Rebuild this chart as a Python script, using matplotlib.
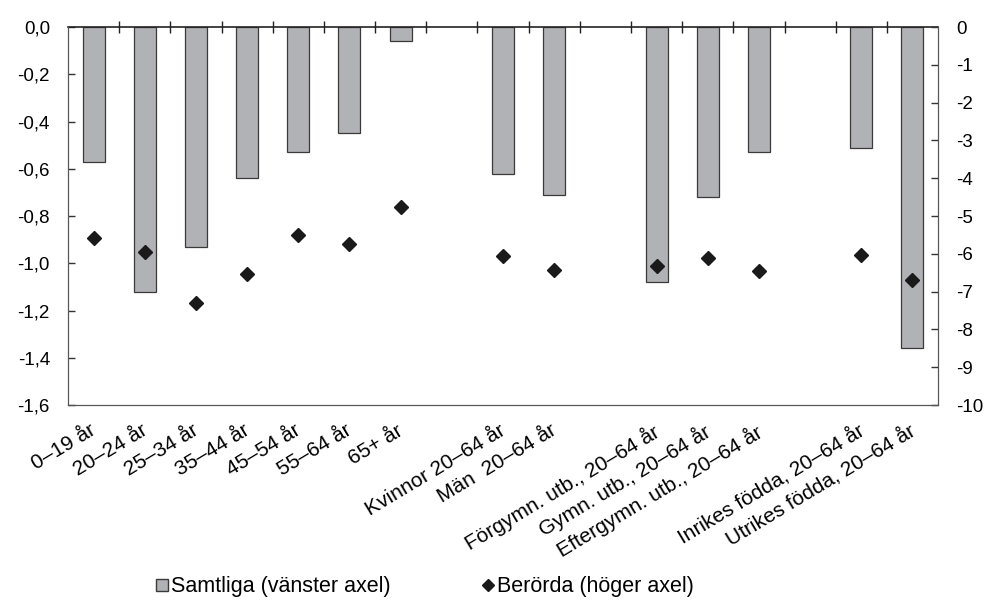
import numpy as np
import matplotlib
matplotlib.use("Agg")
import matplotlib.pyplot as plt
from matplotlib.lines import Line2D
from matplotlib.ticker import FuncFormatter, MultipleLocator
import matplotlib.transforms as mtransforms

plt.rcParams["font.family"] = ["Liberation Sans", "DejaVu Sans"]

# Kategorier (None = tom plats mellan grupperna)
kategorier = ["0–19 år", "20–24 år", "25–34 år", "35–44 år", "45–54 år", "55–64 år", "65+ år",
              None,
              "Kvinnor 20–64 år", "Män  20–64 år",
              None,
              "Förgymn. utb., 20–64 år", "Gymn. utb., 20–64 år", "Eftergymn. utb., 20–64 år",
              None,
              "Inrikes födda, 20–64 år", "Utrikes födda, 20–64 år"]

# Samtliga (vänster axel)
samtliga = [-0.57, -1.12, -0.93, -0.64, -0.53, -0.45, -0.06,
            -0.62, -0.71,
            -1.08, -0.72, -0.53,
            -0.51, -1.36]

# Berörda (höger axel)
berorda = [-5.58, -5.96, -7.30, -6.53, -5.51, -5.75, -4.76,
           -6.06, -6.43,
           -6.33, -6.10, -6.45,
           -6.04, -6.69]

pos = [i for i, k in enumerate(kategorier) if k is not None]
etiketter = [k for k in kategorier if k is not None]

fig = plt.figure(figsize=(9.87, 6.10), dpi=100)
ax = fig.add_axes([0.0689, 0.336, 0.8815, 0.6197])
ax2 = ax.twinx()

ax.bar(pos, samtliga, width=0.43, color="#b1b2b5", edgecolor="#3a3a3a", linewidth=0.9, zorder=2)
ax2.plot(pos, berorda, linestyle="none", marker="D", markersize=7, color="#1a1a1a", zorder=3)

n = len(kategorier)
ax.set_xlim(-0.5, n - 0.5)
ax.set_ylim(-1.6, 0)
ax2.set_ylim(-10, 0)

ax.yaxis.set_major_locator(MultipleLocator(0.2))
ax.yaxis.set_major_formatter(FuncFormatter(lambda v, p: f"{v:.1f}".replace(".", ",").replace("−", "-")))
ax2.yaxis.set_major_locator(MultipleLocator(1))
ax2.yaxis.set_major_formatter(FuncFormatter(lambda v, p: f"{int(round(v))}"))

ax.tick_params(axis="y", direction="in", length=5, width=1, labelsize=13.5, pad=13, color="#333333")
ax2.tick_params(axis="y", direction="in", length=5, width=1, labelsize=13.5, pad=13, color="#333333")

# x-axeln ligger vid 0 (överst): streck vid kategorigränserna
ax.set_xticks(pos)
ax.set_xticklabels([])
ax.tick_params(axis="x", which="major", length=0, bottom=False, top=False)
ax.set_xticks(np.arange(0.5, n - 0.5, 1), minor=True)
ax.tick_params(axis="x", which="minor", top=True, bottom=False, direction="inout", length=9, width=1, color="#222222")

for s in ["left", "right", "bottom"]:
    ax.spines[s].set_color("#555555")
    ax2.spines[s].set_color("#555555")
ax.spines["top"].set_color("#222222")
ax.spines["top"].set_linewidth(1.2)
ax2.spines["top"].set_visible(False)

# Roterade kategorietiketter under diagrammet
offset = mtransforms.ScaledTranslation(-0.04, -0.16, fig.dpi_scale_trans)
trans = mtransforms.blended_transform_factory(ax.transData, ax.transAxes) + offset
for x, lab in zip(pos, etiketter):
    ax.text(x, 0, lab, transform=trans, rotation=31, rotation_mode="anchor",
            ha="right", va="top", fontsize=15)

handles = [Line2D([], [], linestyle="none", marker="s", markersize=8, markerfacecolor="#b1b2b5",
                  markeredgecolor="#3a3a3a"),
           Line2D([], [], linestyle="none", marker="D", markersize=6, color="#1a1a1a")]
fig.legend(handles, ["Samtliga (vänster axel)", "Berörda (höger axel)"], loc="center",
           bbox_to_anchor=(0.431, 0.038), ncol=2, frameon=False, fontsize=15.5,
           handlelength=0.5, handletextpad=0.15, columnspacing=4.3)

fig.savefig("out.png", dpi=100)
